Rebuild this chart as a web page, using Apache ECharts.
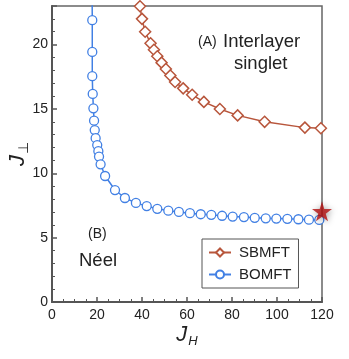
<!DOCTYPE html>
<html>
<head>
<meta charset="utf-8">
<script src="https://cdn.jsdelivr.net/npm/echarts@6/dist/echarts.min.js"></script>
<style>
  html, body { margin: 0; padding: 0; background: #fff; }
  #main { width: 349px; height: 359px; }
</style>
</head>
<body>
<div id="main"></div>
<script>
var sbX = [39.1, 40.0, 41.4, 43.8, 45.3, 46.8, 48.7, 50.6, 52.6, 54.7, 58.3, 62.3, 67.5, 74.6, 82.5, 94.5, 112.4, 119.5];
var sbY = [22.98, 22.0, 21.0, 20.1, 19.6, 19.1, 18.6, 18.1, 17.6, 17.1, 16.6, 16.1, 15.55, 15.0, 14.5, 14.0, 13.55, 13.5];

var boX = [17.8, 17.9, 17.9, 17.9, 18.1, 18.4, 18.7, 19.0, 19.4, 20.1, 20.6, 20.9, 21.6, 23.6, 28.0, 32.4, 37.3, 42.1, 46.8, 51.7, 56.4,
           61.3, 66.1, 70.8, 75.6, 80.3, 85.3, 90.1, 95.0, 99.7, 104.6, 109.5, 114.2, 118.8];
var boY = [24.5, 21.9, 19.43, 17.55, 16.17, 15.05, 14.09, 13.36, 12.73, 12.19, 11.72, 11.3, 10.7, 9.79, 8.7, 8.08, 7.7, 7.45, 7.24, 7.1, 7.0,
           6.9, 6.82, 6.77, 6.7, 6.64, 6.6, 6.54, 6.5, 6.48, 6.46, 6.43, 6.4, 6.38];

var starPt = [120, 7.05];

var seriesNames = ['SBMFT', 'BOMFT'];
var red = '#b8563c';
var blue = '#4280e4';
var font = 'Liberation Sans';

var myChart = echarts.init(document.getElementById('main'));

function pairs(xs, ys) {
    return xs.map(function (x, i) {
        // first blue point sits above the frame, only the line goes there
        if (ys[i] > 23) {
            return { value: [x, ys[i]], symbol: 'none' };
        }
        return [x, ys[i]];
    });
}

var axisLineStyle = { color: '#555', width: 2 };

var option = {
    animation: false,
    grid: {
        left: 52,
        right: 27,
        top: 6,
        bottom: 57,
        outerBoundsMode: 'none',
        containLabel: false,
        show: true,
        borderColor: '#666',
        borderWidth: 1.5
    },
    legend: {
        orient: 'vertical',
        left: 202,
        top: 239,
        data: seriesNames,
        backgroundColor: '#fff',
        borderColor: '#555',
        borderWidth: 1,
        padding: [6, 7, 6, 6],
        itemWidth: 22,
        itemHeight: 10,
        itemGap: 7,
        textStyle: { fontFamily: font, fontSize: 15, color: '#222', padding: [0, 0, 0, 3] }
    },
    xAxis: {
        type: 'value',
        min: 0,
        max: 120,
        interval: 20,
        name: '{j|J}{s|H}',
        nameLocation: 'middle',
        nameGap: 19,
        nameMoveOverlap: false,
        nameTextStyle: {
            rich: {
                j: { fontFamily: font, fontSize: 22, fontStyle: 'italic', color: '#222' },
                s: { fontFamily: font, fontSize: 13, fontStyle: 'italic', color: '#222', padding: [14, 0, 0, 1] }
            }
        },
        axisLine: { lineStyle: axisLineStyle },
        axisTick: { inside: true, length: 5, lineStyle: { color: '#555', width: 1.5 } },
        minorTick: { show: true, splitNumber: 4, length: 3, lineStyle: { color: '#555' } },
        splitLine: { show: false },
        axisLabel: { fontFamily: font, fontSize: 14, color: '#222', margin: 6 }
    },
    yAxis: {
        type: 'value',
        min: 0,
        max: 23,
        interval: 5,
        name: '{j|J}{s|⊥}',
        nameLocation: 'middle',
        nameRotate: 90,
        nameGap: 21,
        nameMoveOverlap: false,
        nameTextStyle: {
            rich: {
                j: { fontFamily: font, fontSize: 22, fontStyle: 'italic', color: '#222' },
                s: { fontFamily: font, fontSize: 14, color: '#222', padding: [12, 0, 0, 1] }
            }
        },
        axisLine: { lineStyle: axisLineStyle },
        axisTick: { inside: true, length: 5, lineStyle: { color: '#555', width: 1.5 } },
        minorTick: { show: true, splitNumber: 5, length: 3, lineStyle: { color: '#555' } },
        splitLine: { show: false },
        axisLabel: { fontFamily: font, fontSize: 14, color: '#222', margin: 4, showMaxLabel: false }
    },
    series: [{
        name: seriesNames[0],
        type: 'line',
        data: pairs(sbX, sbY),
        symbol: 'diamond',
        symbolSize: 11,
        showAllSymbol: true,
        clip: true,
        lineStyle: { color: red, width: 1.5 },
        itemStyle: { color: '#fff', borderColor: red, borderWidth: 1.5 },
        z: 3
    }, {
        name: seriesNames[1],
        type: 'line',
        data: pairs(boX, boY),
        symbol: 'circle',
        symbolSize: 9,
        showAllSymbol: true,
        clip: true,
        lineStyle: { color: blue, width: 1.5 },
        itemStyle: { color: '#fff', borderColor: blue, borderWidth: 1.3 },
        z: 2
    }, {
        type: 'scatter',
        data: [starPt],
        symbol: 'path://M50,0 L61,35 L98,35 L68,57 L79,91 L50,70 L21,91 L32,57 L2,35 L39,35 Z',
        symbolSize: 20,
        clip: false,
        itemStyle: {
            color: '#b30f0f',
            shadowBlur: 6,
            shadowColor: 'rgba(0,0,0,0.45)',
            shadowOffsetX: 1,
            shadowOffsetY: 1
        },
        z: 5
    }],
    graphic: [
        { type: 'text', left: 198, top: 35, style: { text: '(A)', fontFamily: font, fontSize: 14, fill: '#222' } },
        { type: 'text', left: 223, top: 32, style: { text: 'Interlayer', fontFamily: font, fontSize: 18.5, fill: '#222' } },
        { type: 'text', left: 234, top: 54, style: { text: 'singlet', fontFamily: font, fontSize: 18.5, fill: '#222' } },
        { type: 'text', left: 88, top: 227, style: { text: '(B)', fontFamily: font, fontSize: 14, fill: '#222' } },
        { type: 'text', left: 79, top: 251, style: { text: 'Néel', fontFamily: font, fontSize: 18.5, fill: '#222' } }
    ]
};

myChart.setOption(option);
</script>
</body>
</html>
